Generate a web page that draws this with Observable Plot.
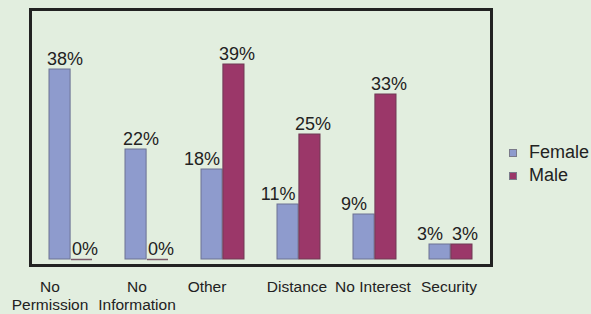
<!DOCTYPE html>
<html>
<head>
<meta charset="utf-8">
<script src="https://cdn.jsdelivr.net/npm/d3@7"></script>
<script src="https://cdn.jsdelivr.net/npm/@observablehq/plot@0.6"></script>
<style>
  html, body { margin: 0; padding: 0; background: #e2eedf; }
  #wrap { position: relative; width: 591px; height: 314px; overflow: hidden; font-family: "Liberation Sans", Arial, sans-serif; }
  #legend { position: absolute; left: 509px; top: 141px; font-size: 18px; color: #222; line-height: 23px; }
  .item { display: flex; align-items: center; white-space: nowrap; }
  .sw { width: 8px; height: 8px; margin-right: 12px; box-sizing: border-box; }
</style>
</head>
<body>
<div id="wrap"></div>
<script>
const categories = ["No\nPermission", "No\nInformation", "Other", "Distance", "No Interest", "Security"];
const female = [38, 22, 18, 11, 9, 3];
const male = [0, 0, 39, 25, 33, 3];
const seriesNames = ["Female", "Male"];
const colors = ["#8e9bcd", "#9b3769"];

const data = categories.map((c, i) => ({category: c, female: female[i], male: male[i]}));

const W = 591, H = 314, mL = 30, mR = 100, inL = 17, inR = 16, padIn = 0.43;
const step = (W - mL - mR - inL - inR) / (categories.length - padIn);
const bw = step * (1 - padIn);
const half = bw / 2;

const labelStyle = {lineAnchor: "bottom", dy: -5, fontSize: 18, fill: "#222"};
const axisStyle = {tickSize: 0, tickPadding: 14, fontSize: 15.5, lineHeight: 1.15, label: null, fill: "#222"};

const chart = Plot.plot({
  width: W, height: H,
  marginLeft: mL, marginRight: mR, marginTop: 9, marginBottom: 49,
  style: {background: "#e2eedf", fontFamily: "'Liberation Sans', Arial, sans-serif", color: "#222"},
  x: {domain: categories, paddingInner: padIn, paddingOuter: 0, insetLeft: inL, insetRight: inR, axis: null},
  y: {domain: [0, 50], insetBottom: 6, axis: null},
  marks: [
    Plot.barY(data, {x: "category", y: "female", fill: colors[0], stroke: "#6c7293", strokeWidth: 1, insetRight: half}),
    Plot.barY(data, {x: "category", y: "male", fill: colors[1], stroke: "#6f3a55", strokeWidth: 1, insetLeft: half}),
    Plot.tickY(data.filter(d => d.male === 0), {x: "category", y: "male", stroke: "#7a5868", strokeWidth: 1.5, insetLeft: half}),
    // female labels: pushed left when the male bar is taller, else slightly right
    Plot.text(data.filter(d => d.male >= d.female), {x: "category", y: "female", text: d => d.female + "%", dx: -half / 2 - 10, ...labelStyle}),
    Plot.text(data.filter(d => d.male < d.female), {x: "category", y: "female", text: d => d.female + "%", dx: -half / 2 + 5, ...labelStyle}),
    Plot.text(data, {x: "category", y: "male", text: d => d.male + "%", dx: half / 2 + 3, ...labelStyle}),
    Plot.frame({stroke: "#222", strokeWidth: 3}),
    Plot.axisX([categories[0]], {...axisStyle, dx: -21}),
    Plot.axisX([categories[1]], {...axisStyle, dx: -10}),
    Plot.axisX([categories[2]], {...axisStyle, dx: -16}),
    Plot.axisX(categories.slice(3), {...axisStyle, dx: -2})
  ]
});

const wrap = document.getElementById("wrap");
wrap.appendChild(chart);

const legend = document.createElement("div");
legend.id = "legend";
seriesNames.forEach((name, i) => {
  const item = document.createElement("div");
  item.className = "item";
  const sw = document.createElement("span");
  sw.className = "sw";
  sw.style.background = colors[i];
  sw.style.border = "1px solid #7a7a8a";
  const t = document.createElement("span");
  t.textContent = name;
  item.appendChild(sw);
  item.appendChild(t);
  legend.appendChild(item);
});
wrap.appendChild(legend);
</script>
</body>
</html>
